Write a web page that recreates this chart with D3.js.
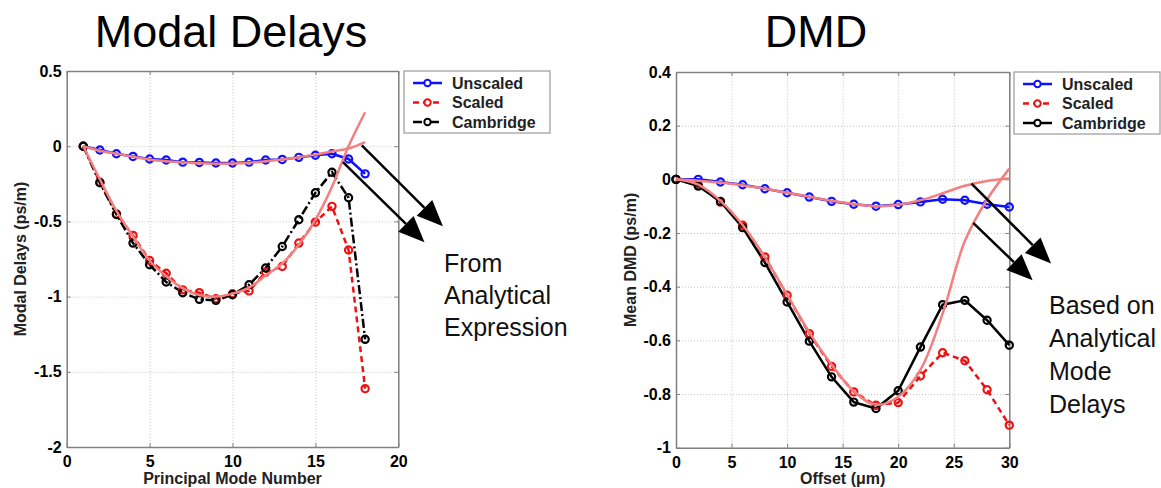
<!DOCTYPE html>
<meta charset="utf-8">
<html>
<head>
<script src="https://d3js.org/d3.v7.min.js"></script>
<style>
  body { margin: 0; background: #fff; }
  text { font-family: "Liberation Sans", Arial, sans-serif; }
</style>
</head>
<body>
<div id="viz"></div>
<script>

// ---- left panel: modal delays vs principal mode number ----
var modeNumber = [1, 2, 3, 4, 5, 6, 7, 8, 9, 10, 11, 12, 13, 14, 15, 16, 17, 18];
var delayUnscaled = [0, -0.025, -0.05, -0.068, -0.085, -0.092, -0.106, -0.108, -0.112, -0.112, -0.106, -0.092, -0.088, -0.074, -0.06, -0.05, -0.085, -0.184];
var delayScaled = [0, -0.24, -0.45, -0.593, -0.76, -0.845, -0.955, -0.974, -1.014, -0.981, -0.962, -0.838, -0.8, -0.644, -0.505, -0.4, -0.69, -1.612];
var delayCambridge = [0, -0.243, -0.454, -0.644, -0.788, -0.903, -0.974, -1.018, -1.025, -0.988, -0.921, -0.81, -0.667, -0.489, -0.31, -0.173, -0.343, -1.284];
var delayAnalyticUnscaled = [0, -0.03, -0.05, -0.07, -0.088, -0.1, -0.108, -0.114, -0.116, -0.115, -0.11, -0.1, -0.088, -0.073, -0.056, -0.035, -0.015, 0.027];
var delayAnalyticScaled = [0, -0.22, -0.43, -0.6, -0.76, -0.865, -0.945, -0.99, -1.0, -0.98, -0.94, -0.86, -0.78, -0.655, -0.49, -0.27, 0.0, 0.226];
var delayXTicks = [0, 5, 10, 15, 20];
var delayYTicks = [0.5, 0, -0.5, -1, -1.5, -2];

// ---- right panel: mean DMD vs offset ----
var offset = [0, 2, 4, 6, 8, 10, 12, 14, 16, 18, 20, 22, 24, 26, 28, 30];
var dmdUnscaled = [0, 0, -0.01, -0.02, -0.035, -0.05, -0.066, -0.082, -0.093, -0.1, -0.094, -0.084, -0.074, -0.078, -0.093, -0.103];
var dmdScaled = [0, -0.02, -0.085, -0.171, -0.289, -0.432, -0.575, -0.697, -0.792, -0.842, -0.832, -0.733, -0.646, -0.676, -0.784, -0.916];
var dmdCambridge = [0, -0.025, -0.082, -0.18, -0.31, -0.457, -0.603, -0.736, -0.83, -0.854, -0.788, -0.625, -0.467, -0.451, -0.525, -0.618];
var dmdAnalyticUnscaled = [0, -0.005, -0.012, -0.022, -0.035, -0.05, -0.065, -0.08, -0.092, -0.1, -0.095, -0.078, -0.052, -0.024, -0.006, 0.003];
var dmdAnalyticScaled = [0, -0.02, -0.08, -0.17, -0.29, -0.43, -0.57, -0.69, -0.79, -0.84, -0.81, -0.71, -0.5, -0.23, -0.075, 0.04];
var dmdXTicks = [0, 5, 10, 15, 20, 25, 30];
var dmdYTicks = [0.4, 0.2, 0, -0.2, -0.4, -0.6, -0.8, -1];

var legendLabels = ["Unscaled", "Scaled", "Cambridge"];

var BLUE = "#1010ff", RED = "#ee1111", BLACK = "#000", PINK = "#f37f80";
var DASHED = "6,4", DASHDOT = "9,3,2,3";

var svg = d3.select("#viz").append("svg")
    .attr("width", 1161)
    .attr("height", 488)
    .attr("viewBox", [0, 0, 1161, 488]);

function drawPanel(p) {
    const x = d3.scaleLinear(p.xDomain, p.xRange);
    const y = d3.scaleLinear(p.yDomain, p.yRange);
    const [x0, x1] = p.xRange;
    const [yb, yt] = p.yRange;
    const g = svg.append("g");

    // dotted grid
    g.append("g")
        .attr("transform", `translate(0,${yb})`)
        .call(d3.axisBottom(x).tickValues(p.xTicks).tickSize(-(yb - yt)).tickFormat(""))
        .call(a => a.select(".domain").remove())
        .call(a => a.selectAll("line").attr("stroke", "#c4c4c4").attr("stroke-dasharray", "1,2"));
    g.append("g")
        .attr("transform", `translate(${x0},0)`)
        .call(d3.axisLeft(y).tickValues(p.yTicks).tickSize(-(x1 - x0)).tickFormat(""))
        .call(a => a.select(".domain").remove())
        .call(a => a.selectAll("line").attr("stroke", "#c4c4c4").attr("stroke-dasharray", "1,2"));

    // box with inward ticks on all sides
    const styleAxis = a => {
        a.select(".domain").attr("stroke", "#808080").attr("stroke-width", 1.5);
        a.selectAll(".tick line").attr("stroke", "#808080");
        a.selectAll("text").attr("font-size", 16).attr("font-weight", "bold").attr("fill", "#000");
    };
    const plain = d => String(d);
    g.append("g").attr("transform", `translate(0,${yb})`)
        .call(d3.axisBottom(x).tickValues(p.xTicks).tickSizeInner(-4).tickSizeOuter(0).tickPadding(9).tickFormat(plain))
        .call(styleAxis);
    g.append("g").attr("transform", `translate(0,${yt})`)
        .call(d3.axisTop(x).tickValues(p.xTicks).tickSizeInner(-4).tickSizeOuter(0).tickFormat(""))
        .call(styleAxis);
    g.append("g").attr("transform", `translate(${x0},0)`)
        .call(d3.axisLeft(y).tickValues(p.yTicks).tickSizeInner(-4).tickSizeOuter(0).tickPadding(5).tickFormat(plain))
        .call(styleAxis);
    g.append("g").attr("transform", `translate(${x1},0)`)
        .call(d3.axisRight(y).tickValues(p.yTicks).tickSizeInner(-4).tickSizeOuter(0).tickFormat(""))
        .call(styleAxis);

    // measured series
    const line = d3.line().x((d, i) => x(p.x[i])).y(d => y(d));
    p.series.forEach(s => {
        g.append("path")
            .attr("d", line(s.values))
            .attr("fill", "none")
            .attr("stroke", s.color)
            .attr("stroke-width", 2.5)
            .attr("stroke-dasharray", s.dash);
    });
    p.series.forEach(s => {
        g.append("g").selectAll("circle")
            .data(s.values)
            .join("circle")
            .attr("cx", (d, i) => x(p.x[i]))
            .attr("cy", d => y(d))
            .attr("r", 3.6)
            .attr("fill", "none")
            .attr("stroke", s.color)
            .attr("stroke-width", 2.2);
    });

    // analytical curves on top
    const smooth = d3.line().curve(d3.curveCatmullRom).x((d, i) => x(p.x[i])).y(d => y(d));
    p.analytic.forEach(vals => {
        g.append("path")
            .attr("d", smooth(vals))
            .attr("fill", "none")
            .attr("stroke", PINK)
            .attr("stroke-width", 2.5);
    });

    // axis labels
    g.append("text")
        .attr("x", (x0 + x1) / 2).attr("y", 484)
        .attr("text-anchor", "middle")
        .attr("font-size", 16).attr("font-weight", "bold").attr("fill", "#222")
        .text(p.xLabel);
    g.append("text")
        .attr("transform", `translate(${p.yLabelX},${(yb + yt) / 2}) rotate(-90)`)
        .attr("text-anchor", "middle")
        .attr("font-size", 16).attr("font-weight", "bold").attr("fill", "#222")
        .text(p.yLabel);

    // title
    g.append("text")
        .attr("x", p.titleX).attr("y", 47)
        .attr("text-anchor", "middle")
        .attr("font-family", "'Open Sans', sans-serif")
        .attr("font-size", 45)
        .text(p.title);

    // legend
    const [lx, ly] = p.legendPos;
    const leg = g.append("g").attr("transform", `translate(${lx},${ly})`);
    leg.append("rect")
        .attr("width", 146).attr("height", 62)
        .attr("fill", "#fff").attr("stroke", "#999").attr("stroke-width", 1.2);
    p.series.forEach((s, i) => {
        const row = leg.append("g").attr("transform", `translate(0,${12 + i * 19.5})`);
        row.append("line")
            .attr("x1", 9).attr("x2", 38)
            .attr("stroke", s.color).attr("stroke-width", 2.5)
            .attr("stroke-dasharray", s.dash);
        row.append("circle")
            .attr("cx", 23.5).attr("r", 3.2)
            .attr("fill", "#fff").attr("stroke", s.color).attr("stroke-width", 2);
        row.append("text")
            .attr("x", 48).attr("dy", "0.36em")
            .attr("font-size", 16).attr("font-weight", "bold").attr("fill", "#222")
            .text(legendLabels[i]);
    });

    // arrows pointing to analytical curves
    p.arrows.forEach(([[ax, ay], [bx, by]]) => {
        const sx = x(ax), sy = y(ay), tx = x(bx), ty = y(by);
        const ang = Math.atan2(ty - sy, tx - sx);
        const len = 26, half = 11;
        const bxp = tx - len * Math.cos(ang), byp = ty - len * Math.sin(ang);
        g.append("line")
            .attr("x1", sx).attr("y1", sy).attr("x2", bxp).attr("y2", byp)
            .attr("stroke", "#000").attr("stroke-width", 2.5);
        g.append("path")
            .attr("d", `M${tx},${ty}L${bxp + half * Math.sin(ang)},${byp - half * Math.cos(ang)}L${bxp - half * Math.sin(ang)},${byp + half * Math.cos(ang)}Z`)
            .attr("fill", "#000");
    });

    // note text
    const note = g.append("text")
        .attr("font-family", "'Open Sans', sans-serif")
        .attr("font-size", 25).attr("fill", "#111");
    p.note.forEach((t, i) => {
        note.append("tspan")
            .attr("x", p.notePos[0]).attr("y", p.notePos[1] + i * p.noteStep)
            .text(t);
    });
}

drawPanel({
    x: modeNumber,
    xDomain: [0, 20], yDomain: [-2, 0.5],
    xRange: [66.7, 398.3], yRange: [447, 71],
    xTicks: delayXTicks, yTicks: delayYTicks,
    series: [
        { values: delayUnscaled, color: BLUE, dash: null },
        { values: delayScaled, color: RED, dash: DASHED },
        { values: delayCambridge, color: BLACK, dash: DASHDOT }
    ],
    analytic: [delayAnalyticUnscaled, delayAnalyticScaled],
    xLabel: "Principal Mode Number",
    yLabel: "Modal Delays (ps/m)",
    yLabelX: 26,
    title: "Modal Delays", titleX: 231,
    legendPos: [404, 71],
    arrows: [[[17.8, 0.005], [22.69, -0.532]], [[16.66, -0.106], [21.58, -0.638]]],
    note: ["From", "Analytical", "Expression"],
    notePos: [444, 272], noteStep: 32
});

drawPanel({
    x: offset,
    xDomain: [0, 30], yDomain: [-1, 0.4],
    xRange: [676, 1009.3], yRange: [447.7, 72],
    xTicks: dmdXTicks, yTicks: dmdYTicks,
    series: [
        { values: dmdUnscaled, color: BLUE, dash: null },
        { values: dmdScaled, color: RED, dash: DASHED },
        { values: dmdCambridge, color: BLACK, dash: null }
    ],
    analytic: [dmdAnalyticUnscaled, dmdAnalyticScaled],
    xLabel: "Offset (\u03bcm)",
    yLabel: "Mean DMD (ps/m)",
    yLabelX: 636,
    title: "DMD", titleX: 816,
    legendPos: [1014, 72],
    arrows: [[[26.6, -0.016], [33.76, -0.314]], [[26.75, -0.162], [32.1, -0.376]]],
    note: ["Based on", "Analytical", "Mode", "Delays"],
    notePos: [1049, 314], noteStep: 33
});

</script>
</body>
</html>
